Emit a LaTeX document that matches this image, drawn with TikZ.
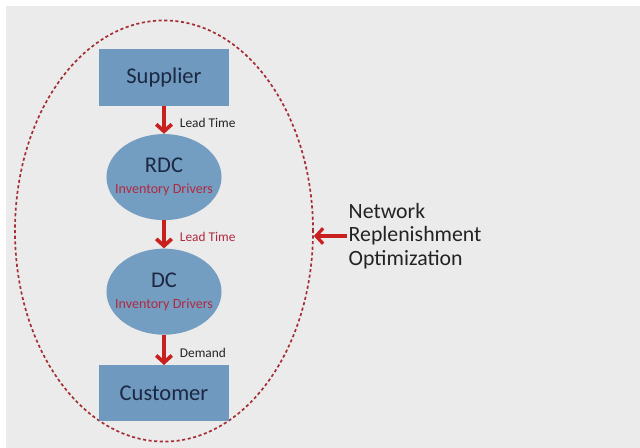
\documentclass[tikz,border=0pt]{standalone}
\usepackage{fontspec}
\setmainfont{Carlito}
\usetikzlibrary{arrows.meta,positioning,shapes.geometric}

\definecolor{paper}{RGB}{235,235,235}
\definecolor{boxblue}{RGB}{111,153,190}
\definecolor{hubblue}{RGB}{116,157,194}
\definecolor{navy}{RGB}{27,40,66}
\definecolor{flowred}{RGB}{200,32,30}
\definecolor{driverred}{RGB}{176,42,66}
\definecolor{ringred}{RGB}{165,45,52}
\definecolor{inkgray}{RGB}{35,35,35}

\newcommand{\drivers}{\makebox[0pt]{\color{driverred}\fontsize{10}{11}\selectfont Inventory Drivers}}

\begin{document}
\begin{tikzpicture}[x=0.025cm,y=-0.025cm,>={Straight Barb[length=5pt,width=11pt]},auto,node distance=0.7cm,
  every edge/.style={draw=flowred,line width=2.6pt,->}]
  \tikzstyle{site}=[rectangle,fill=boxblue,text=navy,minimum width=3.225cm,minimum height=1.4cm,font=\fontsize{16}{18}\selectfont]
  \tikzstyle{hub}=[ellipse,fill=hubblue,text=navy,minimum width=2.875cm,minimum height=2.15cm,inner sep=0pt,align=center,font=\fontsize{16}{18}\selectfont]
  \tikzstyle{tag}=[font=\fontsize{9.5}{11}\selectfont,text=inkgray,inner sep=5pt,xshift=5pt,pos=0.6]
  \tikzstyle{zone}=[ellipse,draw=ringred,line width=1.2pt,dash pattern=on 2.2pt off 1.8pt,minimum width=7.45cm,minimum height=10.525cm]
  \tikzstyle{note}=[anchor=west,align=left,text=inkgray,inner sep=1pt,font=\fontsize{15.5}{16.7}\selectfont]

  % background
  \fill[white] (0,0) rectangle (640,448);
  \fill[paper] (6,6) rectangle (640,448);

  \node[zone] (zone) at (164,231) {};

  \node[site] (sup) at (164,77.5)          {Supplier};
  \node[hub]  (rdc) [below=of sup]         {RDC\\[-3pt]\drivers};
  \node[hub]  (dc)  [below=of rdc]         {DC\\[-3pt]\drivers};
  \node[site] (cust) [below=0.75cm of dc]  {Customer};

  \path (sup) edge node[tag]                  {Lead Time} (rdc)
        (rdc) edge node[tag,text=driverred]   {Lead Time} (dc)
        (dc)  edge node[tag]                  {Demand}    (cust);

  \node[note] (nro) at (347,236) {Network\\Replenishment\\Optimization};
  \draw[flowred,line width=2.3pt,->] (nro.west) -- (nro.west -| zone.east);
\end{tikzpicture}
\end{document}
